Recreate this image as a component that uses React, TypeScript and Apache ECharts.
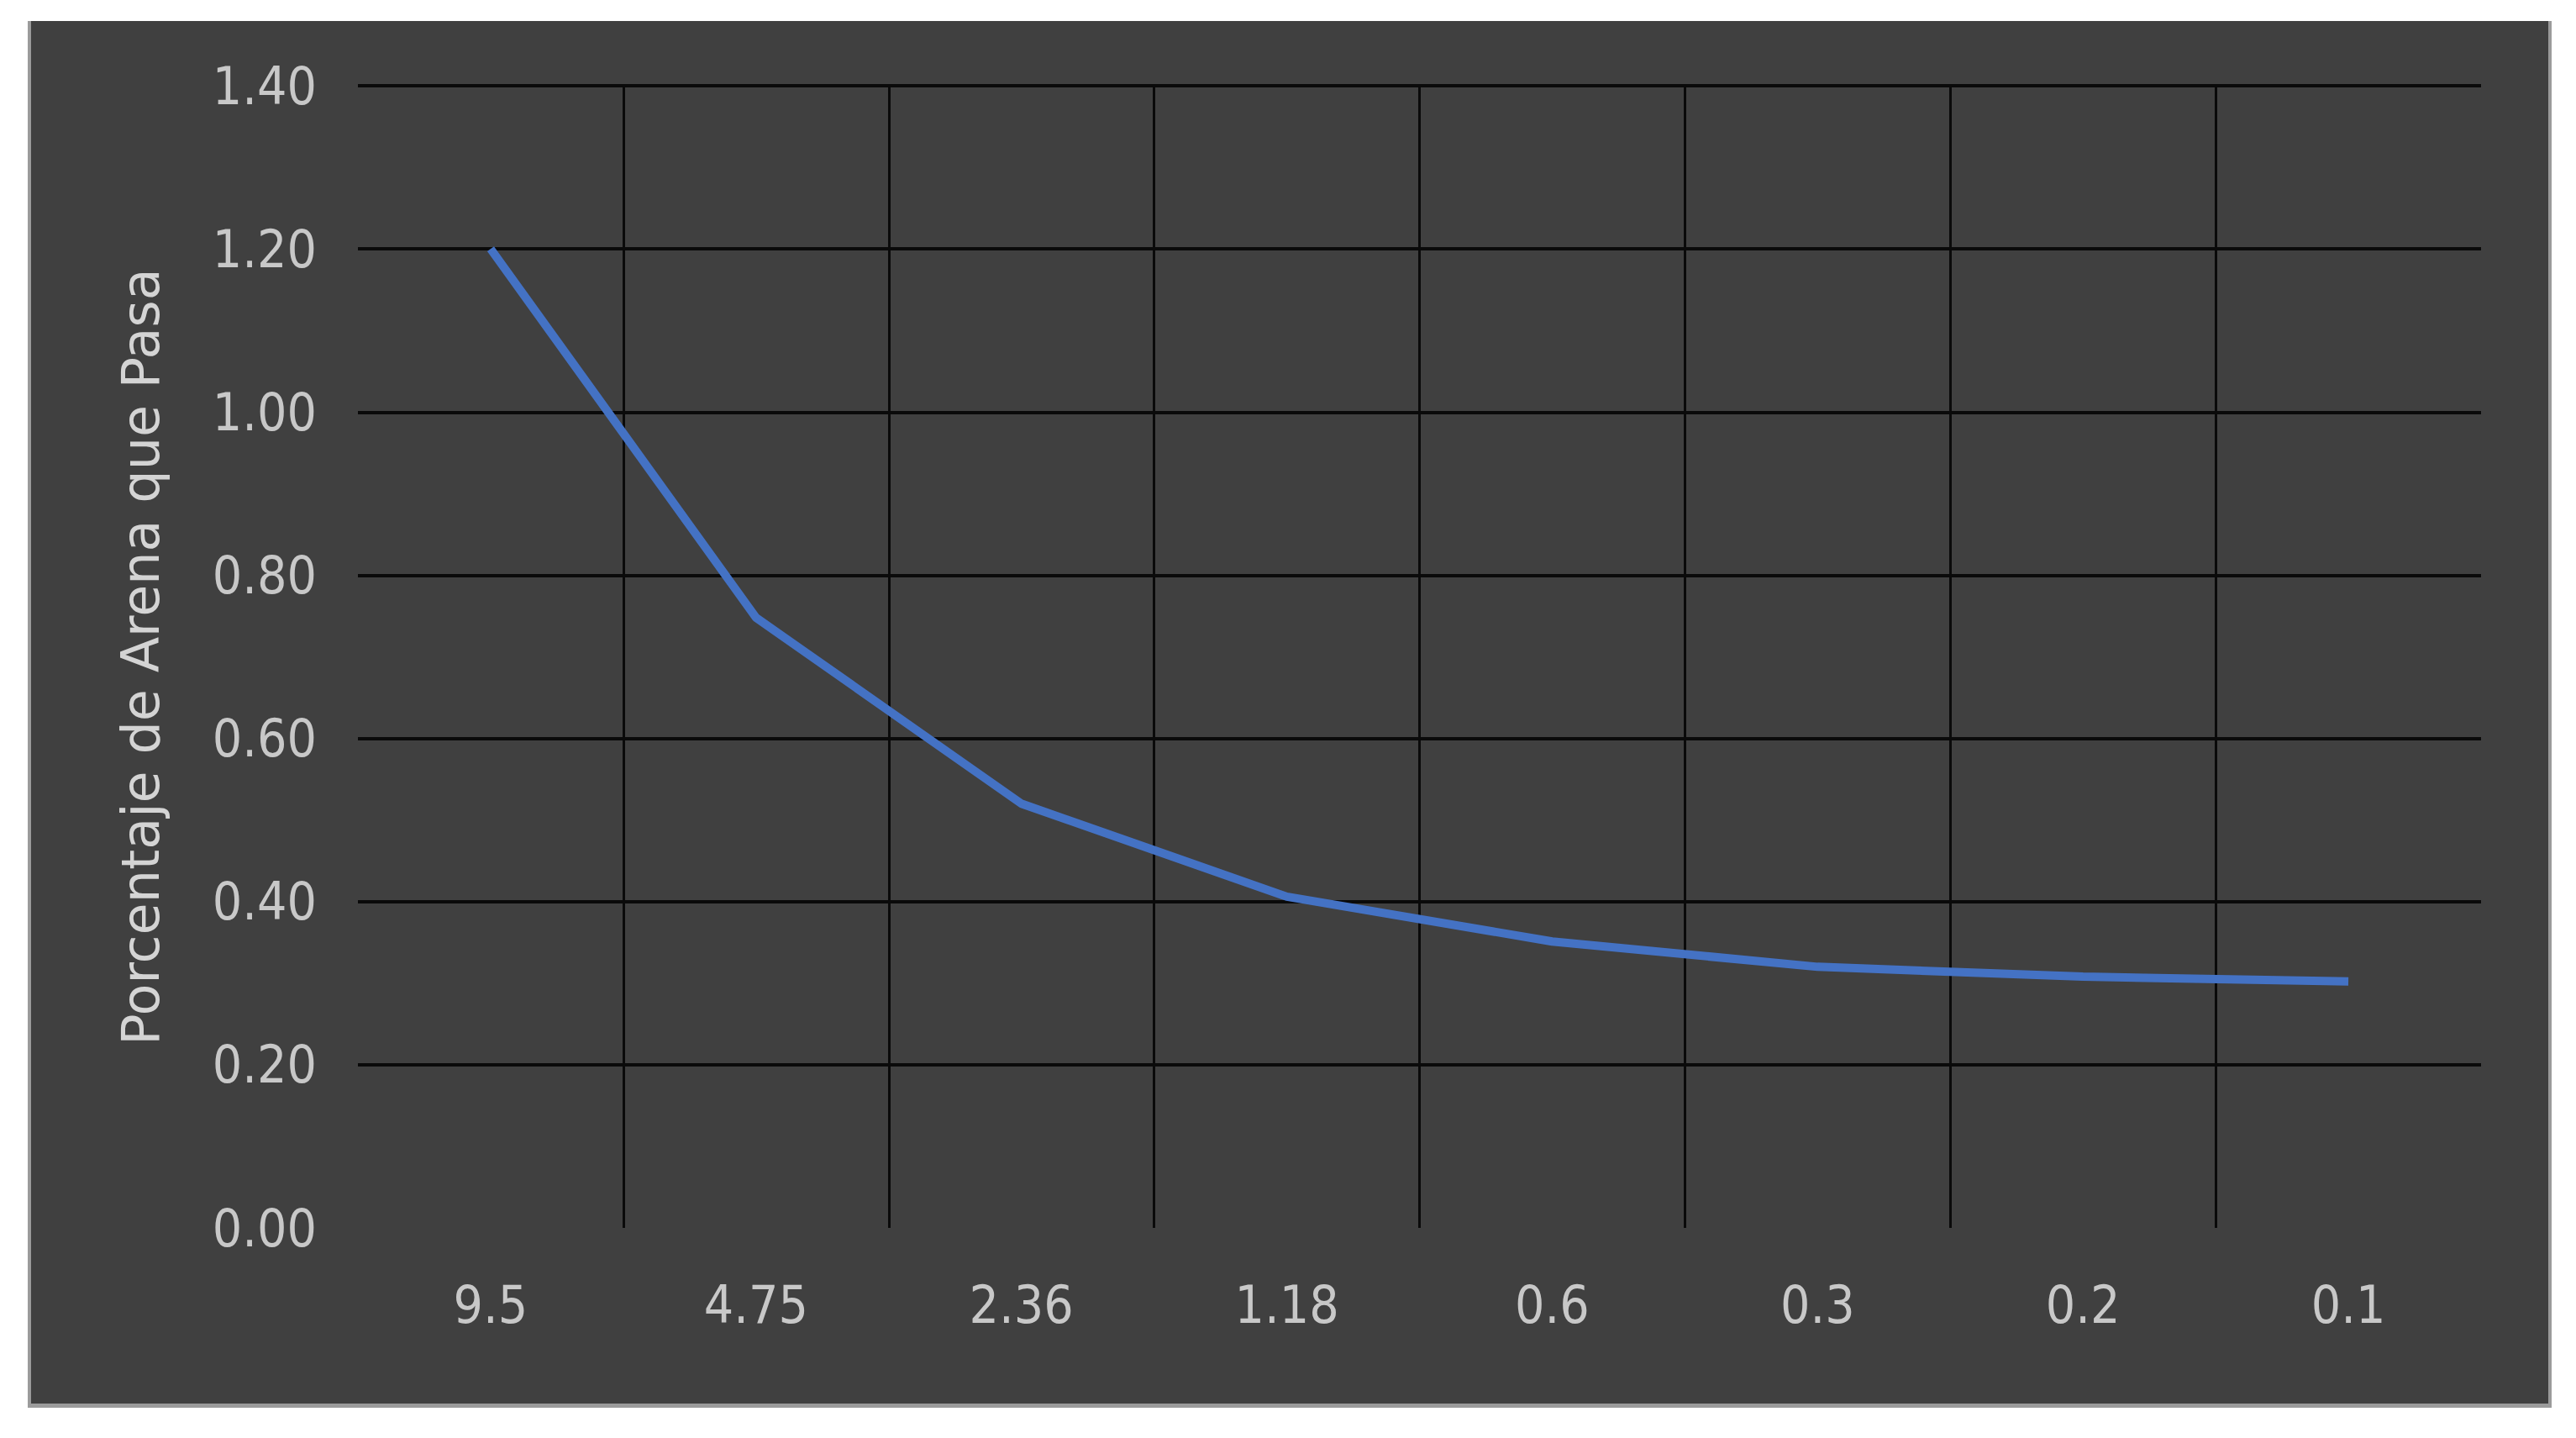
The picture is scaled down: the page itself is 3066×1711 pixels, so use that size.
import React, { useEffect, useRef } from 'react';
import * as echarts from 'echarts';

const categories = ['9.5', '4.75', '2.36', '1.18', '0.6', '0.3', '0.2', '0.1'];
const pasa = [1.2, 0.748, 0.52, 0.406, 0.351, 0.32, 0.308, 0.302];
const yMin = 0;
const yMax = 1.4;
const yStep = 0.2;
const yTitle = 'Porcentaje de Arena que Pasa';

export default function App() {
  const ref = useRef<HTMLDivElement>(null);
  useEffect(() => {
    document.body.style.margin = '0';
    document.body.style.overflow = 'hidden';
    const chart = echarts.init(ref.current!, null, { renderer: 'svg' });
    const tickFont = '"DejaVu Sans Condensed", "DejaVu Sans", sans-serif';
    chart.setOption({
      animation: false,
      backgroundColor: '#ffffff',
      textStyle: { fontFamily: tickFont },
      graphic: [
        {
          type: 'rect',
          z: -10,
          silent: true,
          shape: { x: 33, y: 25, width: 3004, height: 1650 },
          style: { fill: '#9b9b9b' },
        },
        {
          type: 'rect',
          z: -9,
          silent: true,
          shape: { x: 37, y: 25, width: 2996, height: 1645 },
          style: { fill: '#404040' },
        },
      ],
      grid: { left: 426, right: 113, top: 102, bottom: 250 },
      xAxis: {
        type: 'category',
        data: categories,
        boundaryGap: true,
        axisLine: { show: false },
        axisTick: { show: false },
        axisLabel: { color: '#c8c8c8', fontSize: 62, fontFamily: tickFont, margin: 60 },
        splitLine: {
          show: true,
          showMinLine: false,
          showMaxLine: false,
          lineStyle: { color: '#0a0a0a', width: 3 },
        },
      },
      yAxis: {
        type: 'value',
        min: yMin,
        max: yMax,
        interval: yStep,
        axisLine: { show: false },
        axisTick: { show: false },
        axisLabel: {
          color: '#c8c8c8',
          fontSize: 62,
          fontFamily: tickFont,
          margin: 49,
          formatter: (v: number) => v.toFixed(2),
        },
        splitLine: {
          show: true,
          showMinLine: false,
          lineStyle: { color: '#0a0a0a', width: 4 },
        },
        name: yTitle,
        nameLocation: 'middle',
        nameGap: 228,
        nameTextStyle: { color: '#d4d4d4', fontSize: 62, fontFamily: '"DejaVu Sans", sans-serif' },
      },
      series: [
        {
          type: 'line',
          data: pasa,
          symbol: 'none',
          lineStyle: { color: '#4472C4', width: 10 },
          itemStyle: { color: '#4472C4' },
        },
      ],
    });
    return () => chart.dispose();
  }, []);
  return <div ref={ref} style={{ width: 3066, height: 1711 }} />;
}
